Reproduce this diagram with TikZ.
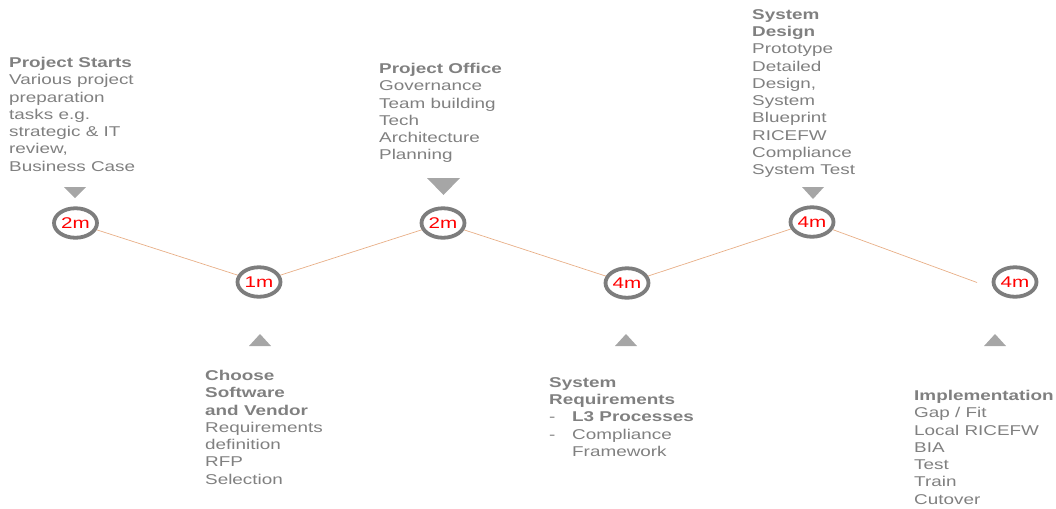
\documentclass[tikz,border=0pt]{standalone}
\usepackage{fontspec}
\setmainfont[FakeStretch=1.33]{Liberation Sans}
\usetikzlibrary{shapes.geometric}
\definecolor{txtgray}{RGB}{128,128,128}
\definecolor{ringgray}{RGB}{125,125,125}
\definecolor{trigray}{RGB}{166,166,166}
\definecolor{linkorange}{RGB}{232,175,135}
\begin{document}
\begin{tikzpicture}[x=1pt,y=-1pt,
  ms/.style={ellipse,draw=ringgray,line width=3.8pt,fill=white,minimum width=43pt,minimum height=29.5pt,inner sep=0pt,text=red,font=\fontsize{15.5}{17}\selectfont},
  desc/.style={anchor=north west,align=left,inner sep=0pt,text=txtgray,font=\fontsize{14.2}{17.3}\selectfont},
  link/.style={draw=linkorange,line width=0.7pt},
  tri/.style={fill=trigray}]
\useasboundingbox (0,0) rectangle (1056,508);
% milestones
\node[ms] (c1) at (75.5,223) {2m};
\node[ms] (c2) at (259,282) {1m};
\node[ms] (c3) at (443,223) {2m};
\node[ms] (c4) at (627,283) {4m};
\node[ms] (c5) at (812,222) {4m};
\node[ms] (c6) at (1015,282) {4m};
\coordinate (e6) at (977,282.5);
% connectors
\draw[link] (c1) -- (c2);
\draw[link] (c2) -- (c3);
\draw[link] (c3) -- (c4);
\draw[link] (c4) -- (c5);
\draw[link] (c5) -- (e6);
% markers
\fill[tri] (64,187) -- (86,187) -- (75,198) -- cycle;
\fill[tri] (427,178) -- (460,178) -- (443.5,195) -- cycle;
\fill[tri] (802,187) -- (824,187) -- (813,199) -- cycle;
\fill[tri] (249,346) -- (271,346) -- (260,334) -- cycle;
\fill[tri] (615,346) -- (637,346) -- (626,334) -- cycle;
\fill[tri] (984,346) -- (1006,346) -- (995,334) -- cycle;
% descriptions
\node[desc] (d1) at (9,57) {\textbf{Project Starts}\\Various project\\preparation\\tasks e.g.\\strategic \& IT\\review,\\Business Case};
\node[desc] (d2) at (205,370) {\textbf{Choose}\\\textbf{Software}\\\textbf{and Vendor}\\Requirements\\definition\\RFP\\Selection};
\node[desc] (d3) at (379,63) {\textbf{Project Office}\\Governance\\Team building\\Tech\\Architecture\\Planning};
\node[desc] (d4) at (549,377) {\textbf{System}\\\textbf{Requirements}\\\makebox[23pt][l]{-}\textbf{L3 Processes}\\\makebox[23pt][l]{-}Compliance\\\hspace*{23pt}Framework};
\node[desc] (d5) at (752,9) {\textbf{System}\\\textbf{Design}\\Prototype\\Detailed\\Design,\\System\\Blueprint\\RICEFW\\Compliance\\System Test};
\node[desc] (d6) at (914,390) {\textbf{Implementation}\\Gap / Fit\\Local RICEFW\\BIA\\Test\\Train\\Cutover};
\end{tikzpicture}
\end{document}
